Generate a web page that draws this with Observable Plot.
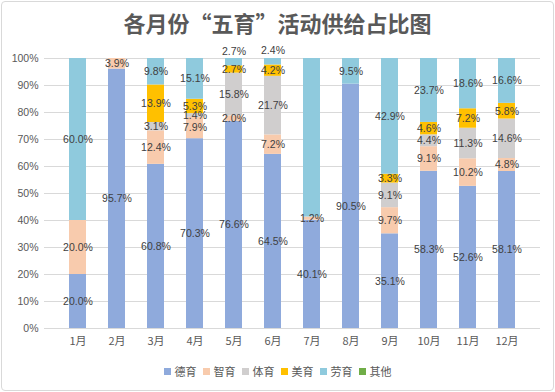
<!DOCTYPE html>
<html>
<head>
<meta charset="utf-8">
<script src="https://cdn.jsdelivr.net/npm/d3@7"></script>
<script src="https://cdn.jsdelivr.net/npm/@observablehq/plot@0.6"></script>
<style>
  body { margin: 0; background: #fff; }
  #wrap { position: relative; width: 555px; height: 392px; font-family: "Liberation Sans", "Noto Sans CJK SC", sans-serif; }
  #frame { position: absolute; left: 1px; top: 1px; width: 551px; height: 388px; border: 1px solid #d9d9d9; border-radius: 4px; }
  #title { position: absolute; left: 0; top: 8px; width: 555px; text-align: center; font-family: "Noto Sans CJK SC", sans-serif; font-weight: bold; font-size: 22px; line-height: 28px; color: #595959; }
  #chart { position: absolute; left: 0; top: 44px; }
  #legend { position: absolute; left: 0; top: 363px; width: 555px; display: flex; justify-content: center; font-family: "Noto Sans CJK SC", sans-serif; font-size: 11px; color: #595959; line-height: 16px; }
  #legend span.item { display: inline-flex; align-items: center; margin: 0 3px; }
  #legend span.sw { display: inline-block; width: 7px; height: 7px; margin-right: 4px; }
</style>
</head>
<body>
<div id="wrap">
  <div id="frame"></div>
  <div id="title">各月份“五育”活动供给占比图</div>
  <div id="chart"></div>
  <div id="legend"></div>
</div>
<script>
const months = ["1月","2月","3月","4月","5月","6月","7月","8月","9月","10月","11月","12月"];
const categories = ["德育","智育","体育","美育","劳育","其他"];
const colors = ["#8FAADC","#F8CBAD","#D0CECE","#FFC000","#8FCADD","#70AD47"];
const deyu  = [20.0, 95.7, 60.8, 70.3, 76.6, 64.5, 40.1, 90.5, 35.1, 58.3, 52.6, 58.1];
const zhiyu = [20.0,  3.9, 12.4,  7.9,  2.0,  7.2,  1.2,  0,    9.7,  9.1, 10.2,  4.8];
const tiyu  = [ 0,    0,    3.1,  1.4, 15.8, 21.7,  0,    0,    9.1,  4.4, 11.3, 14.6];
const meiyu = [ 0,    0,   13.9,  5.3,  2.7,  4.2,  0,    0,    3.3,  4.6,  7.2,  5.8];
const laoyu = [60.0,  0,    9.8, 15.1,  2.7,  2.4, 58.7,  9.5, 42.9, 23.7, 18.6, 16.6];
const qita  = [ 0,    0,    0,    0,    0,    0,    0,    0,    0,    0,    0,    0];
const hiddenLabels = [["7月","劳育"]];
const yTicks = [0,0.1,0.2,0.3,0.4,0.5,0.6,0.7,0.8,0.9,1.0];

const series = [deyu, zhiyu, tiyu, meiyu, laoyu, qita];
const data = [];
months.forEach((m, i) => {
  categories.forEach((c, j) => {
    data.push({month: m, cat: c, value: series[j][i]});
  });
});
const isHidden = d => hiddenLabels.some(([m, c]) => m === d.month && c === d.cat);
const isTopSmall = d => d.cat === "劳育" && d.value < 3;
const fmt = d => d.value.toFixed(1) + "%";

const stackOpts = {x: "month", y: "value", z: "cat", order: categories, offset: "normalize"};

const chart = Plot.plot({
  width: 555,
  height: 312,
  marginLeft: 44,
  marginRight: 15,
  marginTop: 14,
  marginBottom: 28,
  style: {fontFamily: "'Liberation Sans','Noto Sans CJK SC',sans-serif", background: "transparent"},
  x: {domain: months, padding: 0.57, label: null},
  y: {domain: [0, 1], label: null},
  color: {domain: categories, range: colors},
  marks: [
    Plot.gridY(yTicks, {stroke: "#d9d9d9", strokeOpacity: 1}),
    Plot.barY(data, Plot.stackY({...stackOpts, fill: "cat"})),
    Plot.ruleY([0], {stroke: "#d9d9d9", strokeWidth: 1}),
    Plot.axisY(yTicks, {tickSize: 0, tickPadding: 6, tickFormat: d3.format(".0%"), fontSize: 10.5, fill: "#595959", label: null}),
    Plot.axisX({tickSize: 0, tickPadding: 9, fontSize: 11, fill: "#595959", label: null, fontFamily: "'Noto Sans CJK SC',sans-serif"}),
    Plot.text(data, Plot.stackY({...stackOpts, text: d => (d.value > 0 && !isHidden(d) && !isTopSmall(d)) ? fmt(d) : null, fill: "#404040", fontSize: 10.5})),
    Plot.text(data, Plot.stackY({...stackOpts, text: d => (d.value > 0 && !isHidden(d) && isTopSmall(d)) ? fmt(d) : null, fill: "#404040", fontSize: 10.5, dy: -11}))
  ]
});
document.getElementById("chart").appendChild(chart);

const legend = document.getElementById("legend");
categories.forEach((c, i) => {
  const item = document.createElement("span");
  item.className = "item";
  const sw = document.createElement("span");
  sw.className = "sw";
  sw.style.background = colors[i];
  item.appendChild(sw);
  item.appendChild(document.createTextNode(c));
  legend.appendChild(item);
});
</script>
</body>
</html>
